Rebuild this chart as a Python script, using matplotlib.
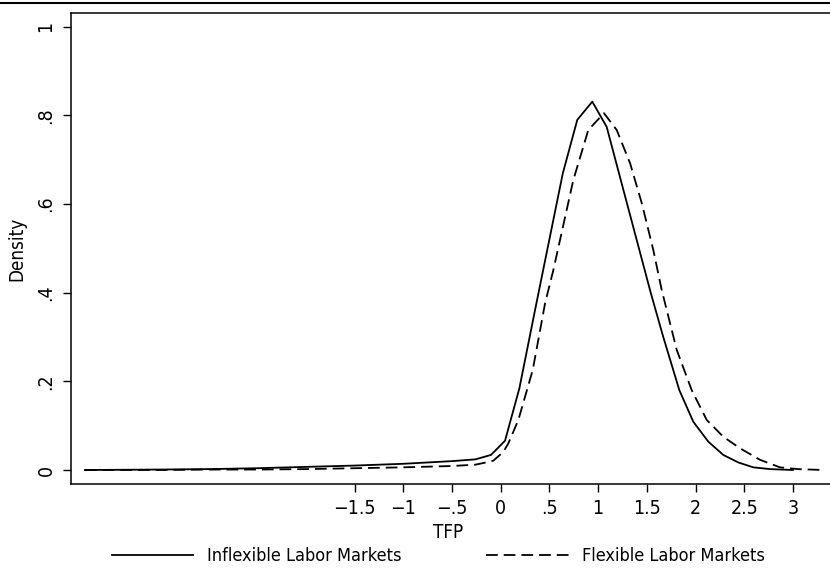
import matplotlib
matplotlib.use('Agg')
import matplotlib.pyplot as plt
from matplotlib.lines import Line2D

plt.rcParams['font.family'] = ['DejaVu Sans']
plt.rcParams['font.stretch'] = 'condensed'

# kernel density of TFP
tfp_inflex = [-4.27, -3.5, -3.0, -2.5, -2.0, -1.5, -1.0, -0.5, -0.26, -0.10, 0.044,
              0.191, 0.345, 0.49, 0.637, 0.786, 0.94, 1.088, 1.24, 1.39, 1.54, 1.669,
              1.834, 1.977, 2.131, 2.285, 2.44, 2.593, 2.765, 3.0]
dens_inflex = [0.000, 0.001, 0.002, 0.004, 0.007, 0.010, 0.014, 0.020, 0.024, 0.034, 0.066,
               0.184, 0.353, 0.51, 0.669, 0.790, 0.831, 0.774, 0.648, 0.524, 0.40, 0.30,
               0.18, 0.109, 0.064, 0.034, 0.017, 0.006, 0.002, 0.000]

tfp_flex = [-4.27, -3.5, -3.0, -2.5, -2.0, -1.5, -1.0, -0.5, -0.26, -0.13, -0.076, 0.027,
            0.078, 0.181, 0.329, 0.455, 0.54, 0.745, 0.899, 1.06, 1.191, 1.328, 1.448, 1.567,
            1.653, 1.807, 1.961, 2.115, 2.285, 2.457, 2.662, 2.867, 3.05, 3.31]
dens_flex = [0.000, 0.000, 0.001, 0.001, 0.002, 0.004, 0.006, 0.009, 0.012, 0.018, 0.021, 0.041,
             0.060, 0.113, 0.226, 0.376, 0.451, 0.654, 0.767, 0.805, 0.767, 0.692, 0.602, 0.496,
             0.406, 0.271, 0.18, 0.113, 0.075, 0.049, 0.023, 0.006, 0.002, 0.000]

x_ticks = [-1.5, -1, -0.5, 0, 0.5, 1, 1.5, 2, 2.5, 3]
x_ticklabels = ['\u22121.5', '\u22121', '\u2212.5', '0', '.5', '1', '1.5', '2', '2.5', '3']
y_ticks = [0, 0.2, 0.4, 0.6, 0.8, 1]
y_ticklabels = ['0', '.2', '.4', '.6', '.8', '1']

W, H = 830, 575
fig = plt.figure(figsize=(W / 100, H / 100), dpi=100)
ax = fig.add_axes([70.7 / W, 1 - 484 / H, 1 - 70.7 / W, (484 - 13) / H])

ax.plot(tfp_inflex, dens_inflex, color='black', lw=1.3)
ax.plot(tfp_flex, dens_flex, color='black', lw=1.3, dashes=(6.5, 3.3))

ax.set_xlim(-4.416, 3.381)
ax.set_ylim(-0.0316, 1.031)
ax.spines['right'].set_visible(False)
for s in ['left', 'bottom', 'top']:
    ax.spines[s].set_linewidth(1.1)

ax.set_xticks(x_ticks)
ax.set_xticklabels(x_ticklabels, fontsize=14)
ax.set_yticks(y_ticks)
ax.set_yticklabels(y_ticklabels, fontsize=14, rotation=90, va='center')
ax.tick_params(length=6, width=1.0, pad=5)

ax.set_ylabel('Density', fontsize=13.5, labelpad=7)
fig.text(448 / W, 1 - 533 / H, 'TFP', fontsize=13.5, ha='center', va='center')

# legend drawn by hand below the axes
fig.add_artist(Line2D([111.7 / W, 193.3 / W], [1 - 555 / H] * 2, color='black', lw=1.3))
fig.text(207 / W, 1 - 556 / H, 'Inflexible Labor Markets', fontsize=13, va='center')
fig.add_artist(Line2D([486 / W, 569 / W], [1 - 555 / H] * 2, color='black', lw=1.3,
                      dashes=(6.5, 3.3)))
fig.text(582 / W, 1 - 556 / H, 'Flexible Labor Markets', fontsize=13, va='center')

# thin rule across the top of the figure
fig.add_artist(Line2D([0, 1], [1 - 2.5 / H] * 2, color='black', lw=1.5))

plt.savefig('out.png', dpi=100)
